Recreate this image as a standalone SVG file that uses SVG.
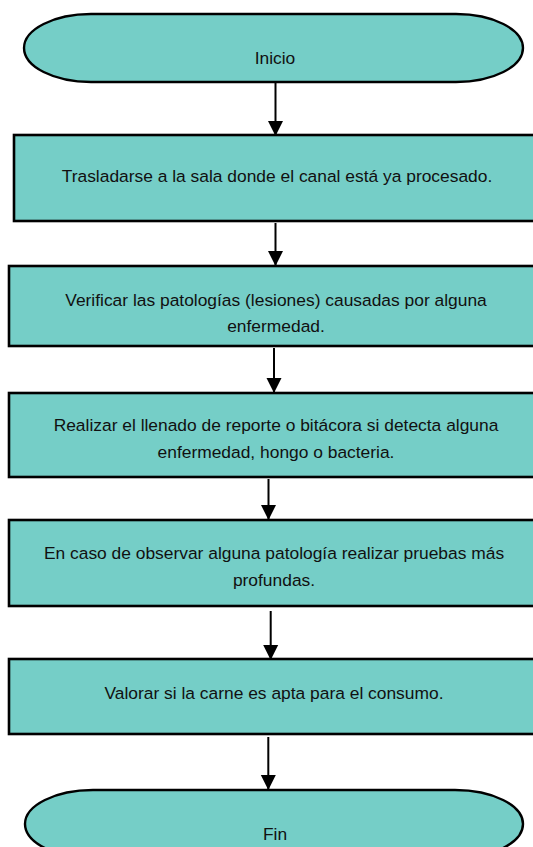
<svg xmlns="http://www.w3.org/2000/svg" width="533" height="847" viewBox="0 0 533 847">
  <style>
    .box { fill: #75CEC7; stroke: #000; stroke-width: 2.6; }
    .term { fill: #75CEC7; stroke: #000; stroke-width: 2.4; }
    .lbl { font-family: "Liberation Sans", Arial, sans-serif; font-size: 17.4px; fill: #111; text-anchor: middle; }
    .conn { stroke: #000; stroke-width: 2; fill: none; marker-end: url(#arrow); }
  </style>
  <defs>
    <marker id="arrow" markerUnits="userSpaceOnUse" markerWidth="16" markerHeight="16" viewBox="0 0 16 16" refX="15" refY="8" orient="auto">
      <path d="M0,0.5 L15,8 L0,15.5 Z" fill="#000"/>
    </marker>
  </defs>
  <rect width="533" height="847" fill="#fff"/>

  <g id="inicio">
    <path class="term" d="M91,14 H456 A67,34 0 0 1 456,82 H91 A67,34 0 0 1 91,14 Z"/>
    <text class="lbl" x="275" y="64">Inicio</text>
  </g>

  <g id="paso1">
    <rect class="box" x="14" y="135" width="540" height="86"/>
    <text class="lbl" x="277" y="182">Trasladarse a la sala donde el canal está ya procesado.</text>
  </g>

  <g id="paso2">
    <rect class="box" x="9" y="266" width="545" height="80"/>
    <text class="lbl" x="276" y="306">Verificar las patologías (lesiones) causadas por alguna</text>
    <text class="lbl" x="276" y="332">enfermedad.</text>
  </g>

  <g id="paso3">
    <rect class="box" x="9" y="393" width="545" height="84"/>
    <text class="lbl" x="276" y="431">Realizar el llenado de reporte o bitácora si detecta alguna</text>
    <text class="lbl" x="276" y="458">enfermedad, hongo o bacteria.</text>
  </g>

  <g id="paso4">
    <rect class="box" x="9" y="520" width="545" height="86"/>
    <text class="lbl" x="274" y="559">En caso de observar alguna patología realizar pruebas más</text>
    <text class="lbl" x="274" y="586">profundas.</text>
  </g>

  <g id="paso5">
    <rect class="box" x="9" y="659" width="545" height="75"/>
    <text class="lbl" x="274" y="699">Valorar si la carne es apta para el consumo.</text>
  </g>

  <g id="fin">
    <path class="term" d="M93,790 H455 A68,34 0 0 1 455,858 H93 A68,34 0 0 1 93,790 Z"/>
    <text class="lbl" x="275" y="840">Fin</text>
  </g>

  <g id="connectors">
    <line class="conn" x1="275.5" y1="83" x2="275.5" y2="136"/>
    <line class="conn" x1="275.5" y1="223" x2="275.5" y2="266"/>
    <line class="conn" x1="274" y1="348" x2="274" y2="393"/>
    <line class="conn" x1="268.5" y1="479" x2="268.5" y2="520"/>
    <line class="conn" x1="270.7" y1="611" x2="270.7" y2="660"/>
    <line class="conn" x1="268.3" y1="737" x2="268.3" y2="790"/>
  </g>
</svg>
